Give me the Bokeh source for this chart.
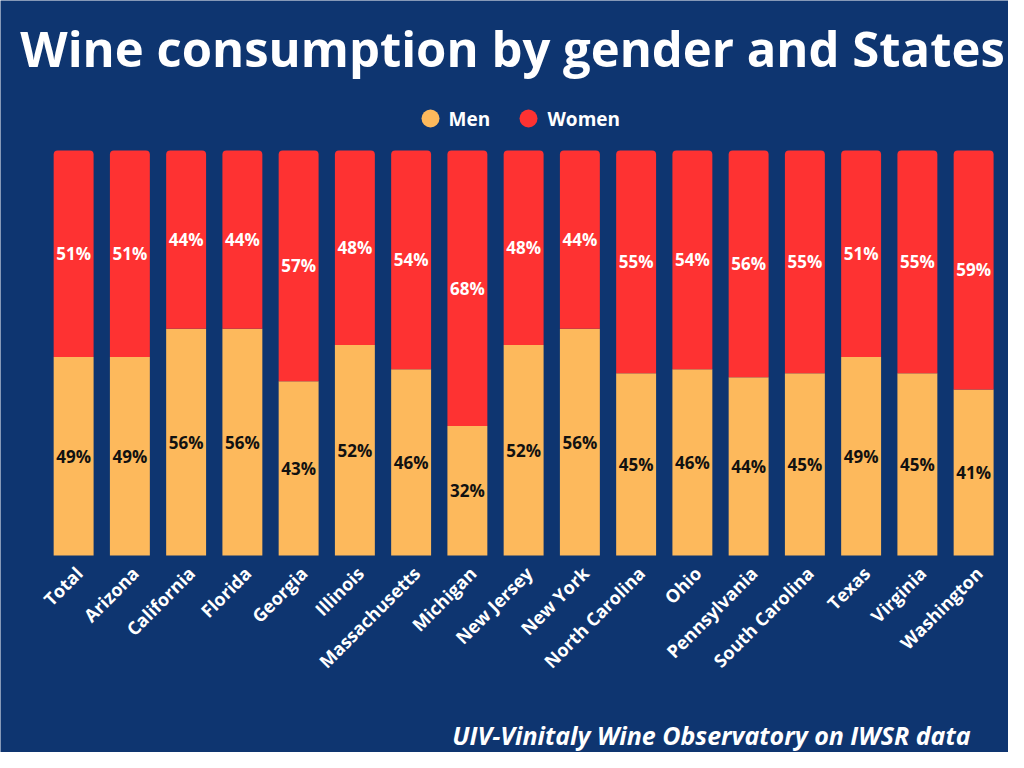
from math import pi
from bokeh.plotting import figure
from bokeh.models import ColumnDataSource, Range1d
from bokeh.core.properties import value
from bokeh.embed import file_html
from bokeh.resources import INLINE

states = ["Total", "Arizona", "California", "Florida", "Georgia", "Illinois",
          "Massachusetts", "Michigan", "New Jersey", "New York", "North Carolina",
          "Ohio", "Pennsylvania", "South Carolina", "Texas", "Virginia", "Washington"]
men = [49, 49, 56, 56, 43, 52, 46, 32, 52, 56, 45, 46, 44, 45, 49, 45, 41]
women = [51, 51, 44, 44, 57, 48, 54, 68, 48, 44, 55, 54, 56, 55, 51, 55, 59]
series = ["Men", "Women"]
title_text = "Wine consumption by gender and States"
source_text = "UIV-Vinitaly Wine Observatory on IWSR data"

BG = "#0e3570"
MEN_C = "#fdb95c"
WOMEN_C = "#fe3232"
FONT = "Open Sans"

W, H = 1008, 752
# layout geometry (pixels within the figure)
X0 = 45.0      # left edge of first category slot
PITCH = 56.25  # width of one category slot
Y0 = 555.0     # pixel row (from top) of the 0 % baseline
PXU = 4.05     # pixels per percentage point

p = figure(width=W, height=H,
           x_range=Range1d(-X0 / PITCH, (W - X0) / PITCH),
           y_range=Range1d(-(H - Y0) / PXU, Y0 / PXU),
           output_backend="svg", toolbar_location=None,
           min_border=0)
p.background_fill_color = BG
p.border_fill_color = BG
p.outline_line_color = None
p.grid.visible = False
p.axis.visible = False


def dx(px):
    return (px - X0) / PITCH


def dy(py):
    return (Y0 - py) / PXU


xc = [i + 0.5 for i in range(len(states))]
src = ColumnDataSource(dict(
    x=xc, state=states, men=men, women=women,
    men_mid=[m / 2 for m in men],
    women_mid=[m + w / 2 for m, w in zip(men, women)],
    top=[m + w for m, w in zip(men, women)],
    zero=[0] * len(states),
    men_lbl=[f"{m}%" for m in men],
    women_lbl=[f"{w}%" for w in women],
))

p.vbar(x="x", bottom=0, top="men", width=0.71, source=src,
       fill_color=MEN_C, line_color=None)
p.vbar(x="x", bottom="men", top="top", width=0.71, source=src,
       fill_color=WOMEN_C, line_color=None, border_radius=(4, 4, 0, 0))

p.text(x="x", y="men_mid", text="men_lbl", source=src, text_align="center",
       text_baseline="middle", text_font=value(FONT), text_font_style="bold",
       text_font_size="17px", text_color="#111111")
p.text(x="x", y="women_mid", text="women_lbl", source=src, text_align="center",
       text_baseline="middle", text_font=value(FONT), text_font_style="bold",
       text_font_size="17px", text_color="white")

# category labels (rotated)
p.text(x="x", y="zero", text="state", source=src, angle=pi / 4,
       text_align="right", text_baseline="top", x_offset=-3, y_offset=6,
       text_font=value(FONT), text_font_style="bold", text_font_size="18px",
       text_color="white")

# legend (manual)
leg_y = dy(118)
p.scatter(x=[dx(430), dx(528)], y=[leg_y, leg_y], marker="circle", size=18,
          fill_color=[MEN_C, WOMEN_C], line_color=None)
p.text(x=[dx(448), dx(547)], y=[leg_y, leg_y], text=series,
       text_align="left", text_baseline="middle", text_font=value(FONT),
       text_font_style="bold", text_font_size="19px", text_color="white")

# title
p.text(x=[dx(512)], y=[dy(47)], text=[title_text], text_align="center",
       text_baseline="middle", text_font=value(FONT), text_font_style="bold",
       text_font_size="49px", text_color="white")

# source note
p.text(x=[dx(970)], y=[dy(734)], text=[source_text], text_align="right",
       text_baseline="middle", text_font=value(FONT), text_font_style="bold italic",
       text_font_size="25px", text_color="white")

open("out.html", "w").write(file_html(p, INLINE))
